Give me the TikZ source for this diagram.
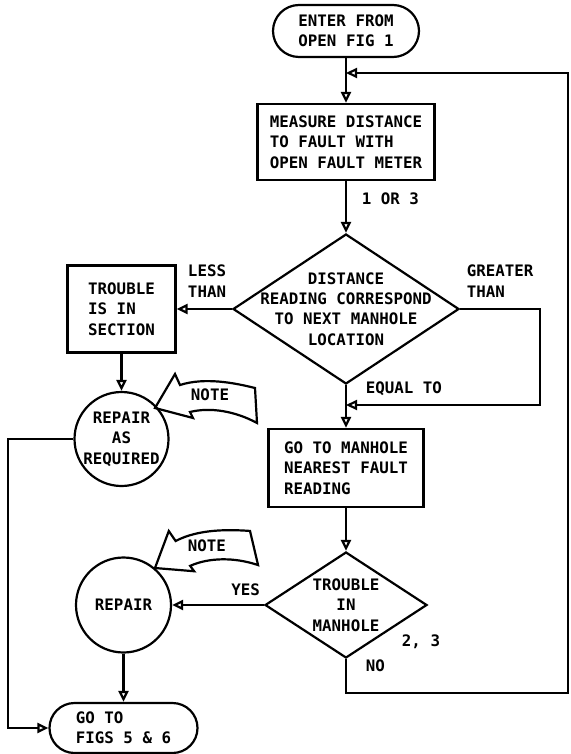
\documentclass[tikz,border=0pt]{standalone}
\usepackage{fontspec}
\newfontfamily\plotfont{DejaVu Sans Mono}
\usetikzlibrary{shapes.geometric,arrows.meta}

\begin{document}
\begin{tikzpicture}[x=0.5pt,y=-0.5pt,
  font=\plotfont\bfseries\fontsize{7.9}{10.2}\selectfont,
  line width=1.1pt,>={Triangle[open,length=5.5pt,width=5pt]},
  blk/.style={draw,align=left},
  term/.style={draw,align=left,rounded corners=12.5pt,minimum height=25pt},
  dec/.style={draw,diamond,aspect=1.5,inner sep=-8pt,align=center},
  rnd/.style={draw,circle,inner sep=-2pt,align=center},
  note/.pic={
    \draw (0,0) -- (20,-34) -- (25,-23) .. controls (50,-31) and (80,-25) .. (100,-20)
      -- (102,15) .. controls (80,3) and (55,-1) .. (35,4) -- (38,10) -- cycle;
    \node (-txt) at (55,-13) {NOTE};
  }
]
\useasboundingbox (0,0) rectangle (571,754);
\node[term,align=center,minimum width=73pt,minimum height=26pt,rounded corners=13pt] (start) at (346,31) {ENTER FROM\\OPEN FIG 1};
\node[blk,minimum width=88.5pt,minimum height=38pt] (meas) at (346,142) {MEASURE DISTANCE\\TO FAULT WITH\\OPEN FAULT METER};
\node[dec,minimum width=113pt,minimum height=75pt] (dist) at (346,309) {DISTANCE\\READING CORRESPOND\\TO NEXT MANHOLE\\LOCATION};
\node[blk,minimum width=54pt,minimum height=43.5pt] (sect) at (121.5,309) {TROUBLE\\IS IN\\SECTION};
\node[rnd,minimum size=47pt] (fixa) at (121.5,439) {REPAIR\\AS\\REQUIRED};
\node[blk,minimum width=77.5pt,minimum height=39pt] (goto) at (346,468) {GO TO MANHOLE\\NEAREST FAULT\\READING};
\node[dec,minimum width=81pt,minimum height=53pt] (inmh) at (346,605) {TROUBLE\\IN\\MANHOLE};
\node[rnd,minimum size=47.5pt] (fix) at (123.5,605) {REPAIR};
\node[term,minimum width=74pt] (exit) at (123.5,728) {GO TO\\FIGS 5 \& 6};
\node (two) at (421,642) {2, 3};
\coordinate (j1) at (346,73);
\coordinate (j2) at (346,405);
\coordinate (gt) at (540,405);
\coordinate (lp) at (568,693);
\coordinate (lf) at (8,728);
\pic (n1) at (155,408) {note};
\pic[rotate=10] (n2) at (155,568) {note};

\draw[->] (start) -- (meas);
\draw[->] (meas) -- node[pos=0.35,right=4pt]{1 OR 3} (dist);
\draw[->] (dist) -- node[pos=0.45,above=2pt,align=left]{LESS\\THAN} (sect);
\draw[->] (dist.east) -| node[pos=0.25,above=2pt,align=left]{GREATER\\THAN} (gt) |- (j2);
\draw[->] (dist) -- node[pos=0.08,right=6pt]{EQUAL TO} (goto);
\draw[->] (sect) -- (fixa);
\draw[->] (fixa.west) -| (lf) -- (exit.west);
\draw[->] (goto) -- (inmh);
\draw[->] (inmh) -- node[pos=0.2,above=1pt]{YES} (fix);
\draw[->] (inmh.south) |- node[pos=0.1,right=6pt]{NO} (lp) |- (j1);
\draw[->] (fix) -- (exit);
\end{tikzpicture}
\end{document}
